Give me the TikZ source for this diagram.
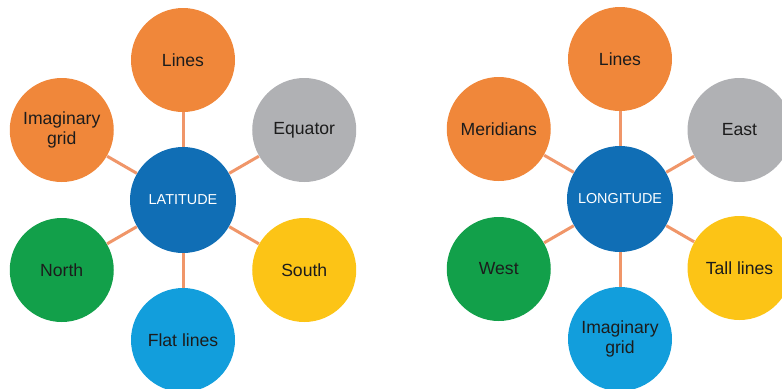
\documentclass[tikz,border=0pt]{standalone}
\usepackage{fontspec}
\setmainfont{Liberation Sans}
\usepackage{xcolor}
\definecolor{hubblue}{RGB}{16, 110, 181}
\definecolor{leaforange}{RGB}{240, 135, 58}
\definecolor{leafgrey}{RGB}{176, 177, 180}
\definecolor{leafgreen}{RGB}{18, 160, 74}
\definecolor{leafyellow}{RGB}{252, 196, 22}
\definecolor{leafsky}{RGB}{18, 158, 220}
\definecolor{spokeorange}{RGB}{240, 150, 105}
\definecolor{inktext}{RGB}{28, 28, 28}
\usepackage{tikz}
\usetikzlibrary{calc}

\begin{document}
\begin{tikzpicture}[x=0.5pt, y=0.5pt,
    hub/.style={circle, fill=hubblue, text=white, minimum size=53pt,
        inner sep=0pt, font=\fontsize{7.2}{8}\selectfont},
    leaf/.style={circle, minimum size=52pt, inner sep=0pt, text=inktext,
        align=center, font=\fontsize{8.8}{10}\selectfont},
    spoke/.style={line width=1.5pt, spokeorange}]
    \useasboundingbox (0,0) rectangle (782,388);
    \clip (0,0) rectangle (782,388);

    % latitude
    \coordinate (latc) at (183,188);
    \node[hub] (lat) at (latc) {LATITUDE};
    \node[leaf, fill=leaforange] (latlines) at ($(latc)+(90:140)$) {Lines};
    \node[leaf, fill=leaforange] (latgrid) at ($(latc)+(150:140)$) {Imaginary\\grid};
    \node[leaf, fill=leafgrey] (lateq) at ($(latc)+(30:140)$) {Equator};
    \node[leaf, fill=leafgreen] (latnorth) at ($(latc)+(210:140)$) {North};
    \node[leaf, fill=leafyellow] (latsouth) at ($(latc)+(330:140)$) {South};
    \node[leaf, fill=leafsky] (latflat) at ($(latc)+(270:140)$) {Flat lines};
    \foreach \n in {latlines, latgrid, lateq, latnorth, latsouth, latflat}
        \draw[spoke] (lat) -- (\n);

    % longitude
    \coordinate (lonc) at (620,189);
    \node[hub] (lon) at (lonc) {LONGITUDE};
    \node[leaf, fill=leaforange] (lonlines) at ($(lonc)+(90:140)$) {Lines};
    \node[leaf, fill=leaforange] (lonmer) at ($(lonc)+(150:140)$) {Meridians};
    \node[leaf, fill=leafgrey] (loneast) at ($(lonc)+(30:138)$) {East};
    \node[leaf, fill=leafgreen] (lonwest) at ($(lonc)+(210:140)$) {West};
    \node[leaf, fill=leafyellow] (lontall) at ($(lonc)+(330:138)$) {Tall lines};
    \node[leaf, fill=leafsky] (longrid) at ($(lonc)+(270:140)$) {Imaginary\\grid};
    \foreach \n in {lonlines, lonmer, loneast, lonwest, lontall, longrid}
        \draw[spoke] (lon) -- (\n);
\end{tikzpicture}
\end{document}
